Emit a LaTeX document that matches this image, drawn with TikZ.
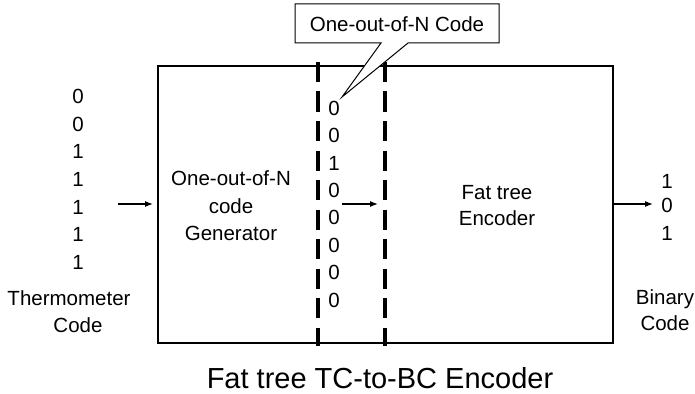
\documentclass[tikz,border=0pt]{standalone}
\usepackage{fontspec}
\setmainfont{Liberation Sans}
\usetikzlibrary{arrows.meta}
\tikzset{
  lbl/.style={inner sep=0pt, text height=14.7pt, text depth=0pt, font=\fontsize{20.5}{24}\selectfont, align=center},
  dig/.style={lbl},
  arr/.style={line width=1.2pt, -{Latex[length=8pt,width=6pt]}},
  sep/.style={line width=4pt, dash pattern=on 20pt off 9.5pt},
}
\begin{document}
\begin{tikzpicture}[x=1pt,y=-1pt]
\useasboundingbox (0,0) rectangle (695,393);
% main box
\draw[line width=1.5pt] (158,66) rectangle (613,343);
% dashed separators
\coordinate (s1t) at (318,62); \coordinate (s1b) at (318,346);
\coordinate (s2t) at (385,62); \coordinate (s2b) at (385,346);
\draw[sep] (s1t) -- (s1b);
\draw[sep] (s2t) -- (s2b);
% callout
\coordinate (tip) at (342,97);
\draw[line width=1pt, fill=white] (499,43) -- (499,4) -- (295,4) -- (295,43) -- (381,43) -- (tip) -- (408,43) -- cycle;
\node[lbl] (callout) at (397,24) {One-out-of-N Code};
% left thermometer code
\foreach \v [count=\i] in {0,0,1,1,1,1,1}{
  \node[dig] (t\i) at (78,{96+27.7*(\i-1)}) {\v};
}
\node[lbl] (therm) at (69,298) {Thermometer};
\node[lbl] (thermc) at (78,325) {Code};
\coordinate (la) at (118,204);
\coordinate (lb) at (153,204);
\draw[arr] (la) -- (lb);
% generator
\node[lbl] (g1) at (231,178) {One-out-of-N};
\node[lbl] (g2) at (231,206) {code};
\node[lbl] (g3) at (231,233) {Generator};
% middle code
\foreach \v [count=\i] in {0,0,1,0,0,0,0,0}{
  \node[dig] (m\i) at (334,{108+27.4*(\i-1)}) {\v};
}
\coordinate (ma) at (342,204);
\coordinate (mb) at (378,204);
\draw[arr] (ma) -- (mb);
% encoder
\node[lbl] (e1) at (497,192) {Fat tree};
\node[lbl] (e2) at (497,218) {Encoder};
% binary
\coordinate (ra) at (614,204);
\coordinate (rb) at (653,204);
\draw[arr] (ra) -- (rb);
\node[dig] (b1) at (667,181) {1};
\node[dig] (b2) at (667,205) {0};
\node[dig] (b3) at (667,233) {1};
\node[lbl] (bin) at (665,297) {Binary};
\node[lbl] (binc) at (665,323) {Code};
% title
\node[inner sep=0pt, text height=20.8pt, text depth=0pt, font=\fontsize{29}{34}\selectfont] (title) at (380,378) {Fat tree TC-to-BC Encoder};
\end{tikzpicture}
\end{document}
